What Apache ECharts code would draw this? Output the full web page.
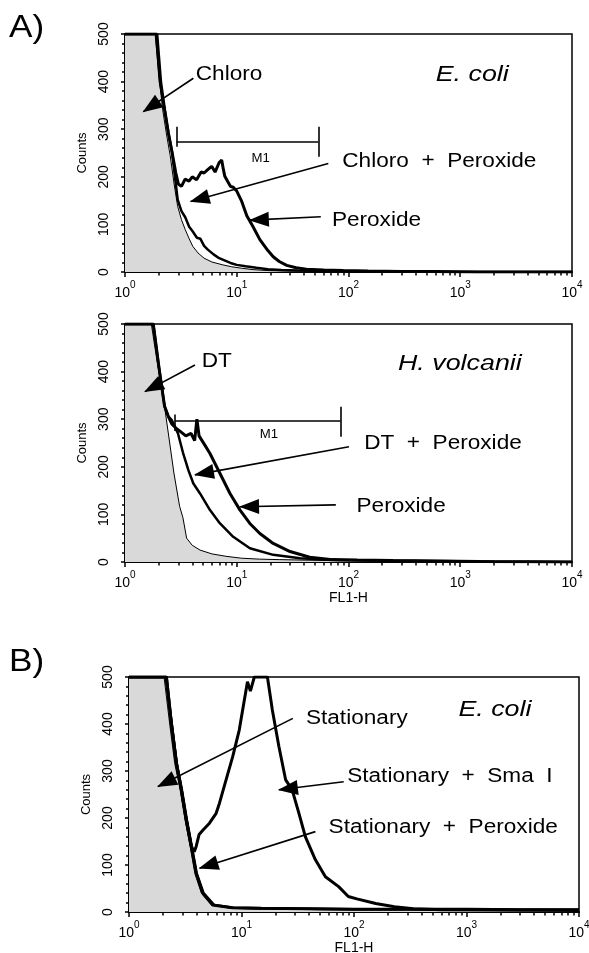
<!DOCTYPE html>
<html><head><meta charset="utf-8">
<script src="https://cdn.jsdelivr.net/npm/echarts@6/dist/echarts.min.js"></script>
<style>html,body{margin:0;padding:0;background:#fff}#c{width:589px;height:953px}</style>
</head><body><div id="c"></div>
<script>
// ---------- Panel A (top): E. coli ----------
const a1CtrlX = [1, 1.86, 2.0, 2.17, 2.35, 2.54, 2.75, 2.96, 3.2, 3.46, 3.75, 4.04, 4.5, 5.1, 6.0, 7.5, 9, 11, 14, 19, 30, 50, 77, 150, 400, 1000, 3000, 10000];
const a1CtrlY = [500, 500, 420, 342, 290, 244, 185, 138, 110, 89, 70, 54, 40, 29, 21, 15, 11, 8, 5, 3, 2, 1.5, 1, 1, 0.5, 0, 0, 0];
const a1ChlPerX = [1, 1.9, 2.05, 2.26, 2.44, 2.64, 2.8, 2.96, 3.2, 3.46, 3.75, 4.04, 4.4, 4.72, 5.1, 5.51, 6.2, 6.96, 8.78, 10, 12, 15, 19, 25, 35, 60, 100, 300, 1000, 10000];
const a1ChlPerY = [500, 500, 400, 342, 293, 251, 200, 152, 128, 115, 95, 85, 72, 70, 55, 47, 37, 29, 19, 15, 12, 9, 6, 4, 3, 2, 1, 1, 0, 0];
const a1PerX = [1, 1.93, 2.09, 2.26, 2.44, 2.64, 2.85, 3.0, 3.2, 3.45, 3.74, 4.0, 4.37, 4.8, 5.1, 5.5, 5.96, 6.4, 6.96, 7.33, 7.6, 7.82, 8.3, 8.78, 9.3, 10, 11, 12.3, 14, 16.1, 19, 21.2, 24, 28, 34, 42, 60, 90, 150, 300, 600, 1500, 10000];
const a1PerY = [500, 500, 398, 342, 293, 251, 208, 185, 180, 195, 191, 200, 194, 210, 208, 215, 222, 210, 230, 235, 215, 201, 190, 180, 178, 170, 150, 118, 95, 68, 45, 32, 22, 14, 9, 6, 4, 3, 2, 1, 1, 0, 0];

// ---------- Panel A (middle): H. volcanii ----------
const a2CtrlX = [1, 1.72, 1.93, 2.17, 2.44, 2.74, 3.08, 3.3, 3.56, 4.0, 4.7, 6, 8, 11, 16, 24, 40, 77, 200, 1000, 10000];
const a2CtrlY = [500, 500, 424, 355, 271, 187, 117, 93, 50, 35, 25, 17, 12, 8, 6, 5, 4, 3, 2, 1, 0];
const a2DtPerX = [1, 1.79, 2.01, 2.26, 2.44, 2.62, 2.98, 3.3, 3.69, 4.09, 4.69, 5.76, 7.08, 9.3, 13.1, 21.2, 36.8, 72, 150, 500, 2000, 10000];
const a2DtPerY = [500, 500, 410, 327, 306, 298, 270, 230, 193, 165, 144, 109, 81, 53, 29, 15, 8, 4, 3, 2, 1, 0];
const a2PerX = [1, 1.79, 2.01, 2.26, 2.44, 2.62, 2.9, 3.1, 3.5, 3.9, 4.2, 4.4, 4.6, 5.2, 5.76, 7.08, 8.7, 10.7, 13.1, 16.1, 21.2, 30, 45, 72, 120, 250, 600, 1500, 10000];
const a2PerY = [500, 500, 410, 327, 306, 290, 280, 275, 265, 270, 255, 300, 265, 245, 228, 186, 144, 109, 81, 60, 39, 22, 10, 5, 4, 3, 2, 1, 0];

// ---------- Panel B: E. coli stationary ----------
const bCtrlX = [1, 2.05, 2.3, 2.55, 2.85, 3.15, 3.5, 3.85, 4.4, 5.4, 8, 15, 50, 200, 1000, 10000];
const bCtrlY = [500, 500, 400, 316, 260, 196, 139, 82, 40, 15, 8, 6, 5, 5, 5, 5];
const bStatX = [1, 2.15, 2.38, 2.64, 2.92, 3.23, 3.58, 3.96, 4.53, 5.55, 8.3, 15, 40, 100, 300, 1000, 3000, 10000];
const bStatY = [500, 500, 401, 316, 260, 196, 139, 82, 40, 15, 9, 8, 7, 6, 6, 6, 5, 5];
const bStatPerX = [1, 2.12, 2.4, 2.66, 2.95, 3.27, 3.62, 4.0, 4.6, 5.7, 8.5, 15, 40, 100, 300, 1000, 3000, 10000];
const bStatPerY = [500, 500, 400, 316, 260, 196, 139, 82, 40, 15, 9, 8, 7, 6, 6, 6, 5, 5];
const bSmaX = [1, 2.15, 2.38, 2.64, 2.92, 3.23, 3.58, 3.8, 3.96, 4.2, 4.53, 5.19, 5.95, 6.36, 7.29, 8.34, 9.55, 10.6, 11.3, 12, 13, 17, 18.8, 21.5, 24.7, 28.2, 32.4, 37, 45.4, 55.7, 73, 89, 106, 156, 229, 337, 600, 1500, 10000];
const bSmaY = [500, 500, 401, 316, 260, 196, 140, 128, 140, 165, 174, 189, 210, 231, 281, 330, 387, 451, 490, 470, 500, 500, 430, 352, 281, 260, 210, 160, 111, 75, 54, 33, 28, 18, 11, 7, 5, 4, 3];

// ---------- axis ticks ----------
const xMin = 1, xMax = 10000;
const xExponents = ['0', '1', '2', '3', '4'];
const xMinorTicks = [2,3,4,5,6,7,8,9, 20,30,40,50,60,70,80,90, 200,300,400,500,600,700,800,900, 2000,3000,4000,5000,6000,7000,8000,9000];
const yMin = 0, yMax = 500, yStep = 100;

// ---------- annotations (data coordinates) ----------
// arrows: [tailX, tailY, tipX, tipY]
const a1Arrows = [[4.09, 407, 1.46, 337], [66, 228, 3.87, 148], [56.5, 116, 13.1, 109]];
const a1Texts = [['Chloro', 4.3, 414], ['Chloro  +  Peroxide', 88, 232], ['Peroxide', 71, 109]];
const a1Species = ['E. coli', 603, 414];
const a1Gate = {x1: 2.9, x2: 53.7, y: 274, tickLo: 242, tickHi: 305, leftLo: 263, leftHi: 305, lx: 16.4, ly: 239};

const a2Arrows = [[4.23, 414, 1.51, 358], [101, 242, 4.23, 183], [77, 120, 10.7, 116]];
const a2Texts = [['DT', 4.86, 421], ['DT  +  Peroxide', 138, 249], ['Peroxide', 118, 116]];
const a2Species = ['H. volcanii', 277, 417];
const a2Gate = {x1: 2.8, x2: 85, y: 297, tickLo: 263, tickHi: 326, leftLo: 275, leftHi: 310, lx: 19.4, ly: 267};

const bArrows = [[28.6, 412, 1.81, 267], [81, 277, 21.5, 260], [45.4, 171, 4.24, 93]];
const bTexts = [['Stationary', 37.4, 412], ['Stationary  +  Sma  I', 87, 288], ['Stationary  +  Peroxide', 59.4, 179]];
const bSpecies = ['E. coli', 847, 430];

// ---------- build ----------
const FONT = '"Liberation Sans", Arial, Helvetica, sans-serif';
const zip = (xs, ys) => xs.map((x, i) => [x, ys[i]]);

const grids = [
  {left: 125, top: 34, width: 447, height: 238},
  {left: 125, top: 324, width: 447, height: 238},
  {left: 129, top: 677, width: 450, height: 235}
];

const xAxes = [], yAxes = [];
grids.forEach((g, gi) => {
  const showName = gi > 0;
  xAxes.push({
    type: 'log', logBase: 10, min: xMin, max: xMax, gridIndex: gi, position: 'bottom',
    name: showName ? 'FL1-H' : '', nameLocation: 'middle', nameGap: 29,
    nameTextStyle: {fontFamily: FONT, fontSize: 14, color: '#000'},
    axisLine: {show: true, lineStyle: {color: '#000', width: 2}},
    axisTick: {show: true, length: 5, lineStyle: {color: '#000', width: 1.5}},
    minorTick: {show: false},
    splitLine: {show: false},
    axisLabel: {
      margin: 8, color: '#000', fontFamily: FONT,
      formatter: (v, i) => '{b|10}{s|' + xExponents[i] + '}',
      rich: {
        b: {fontFamily: FONT, fontSize: 14, color: '#000', lineHeight: 20, verticalAlign: 'bottom'},
        s: {fontFamily: FONT, fontSize: 10, color: '#000', lineHeight: 20, verticalAlign: 'top'}
      }
    }
  });
  xAxes.push({
    type: 'log', logBase: 10, min: xMin, max: xMax, gridIndex: gi, position: 'bottom', offset: 0,
    axisLine: {show: false},
    axisTick: {show: true, length: 3.5, customValues: xMinorTicks, lineStyle: {color: '#000', width: 1.5}},
    axisLabel: {show: false},
    splitLine: {show: false}
  });
  yAxes.push({
    type: 'value', min: yMin, max: yMax, interval: yStep, gridIndex: gi,
    name: 'Counts', nameLocation: 'middle', nameRotate: 90, nameGap: 34,
    nameTextStyle: {fontFamily: FONT, fontSize: 13, color: '#000'},
    axisLine: {show: true, lineStyle: {color: '#000', width: 2}},
    axisTick: {show: true, length: 4, lineStyle: {color: '#000', width: 1.5}},
    minorTick: {show: true, splitNumber: 5, length: 3, lineStyle: {color: '#000', width: 1.5}},
    splitLine: {show: false},
    axisLabel: {rotate: 90, margin: 14, fontFamily: FONT, fontSize: 14, color: '#000'}
  });
});

function arrowLines(arrows, gate) {
  const ml = [];
  arrows.forEach(a => ml.push([
    {coord: [a[0], a[1]], symbol: 'none'},
    {coord: [a[2], a[3]], symbol: 'triangle', symbolSize: [15, 20], symbolOffset: [0, 9]}
  ]));
  if (gate) {
    ml.push([{coord: [gate.x1, gate.y], symbol: 'none'}, {coord: [gate.x2, gate.y], symbol: 'none'}]);
    ml.push([{coord: [gate.x2, gate.tickLo], symbol: 'none'}, {coord: [gate.x2, gate.tickHi], symbol: 'none'}]);
    ml.push([{coord: [gate.x1, gate.leftLo], symbol: 'none'}, {coord: [gate.x1, gate.leftHi], symbol: 'none'}]);
  }
  return {markLine: {silent: true, animation: false, symbol: ['none', 'none'], label: {show: false},
    lineStyle: {color: '#000', width: 1.6, type: 'solid'}, emphasis: {disabled: true}, data: ml}};
}

function ctrlSeries(gi, xs, ys, ann) {
  return Object.assign({
    type: 'line', xAxisIndex: gi * 2, yAxisIndex: gi, data: zip(xs, ys), symbol: 'none',
    lineStyle: {color: '#000', width: 1}, areaStyle: {color: '#d9d9d9', opacity: 1}, z: 2, animation: false
  }, ann);
}
function lineSeries(gi, xs, ys, w) {
  return {type: 'line', xAxisIndex: gi * 2, yAxisIndex: gi, data: zip(xs, ys), symbol: 'none',
    lineStyle: {color: '#000', width: w}, z: 3, animation: false};
}

const series = [
  ctrlSeries(0, a1CtrlX, a1CtrlY, arrowLines(a1Arrows, a1Gate)),
  lineSeries(0, a1ChlPerX, a1ChlPerY, 2.5),
  lineSeries(0, a1PerX, a1PerY, 3),
  ctrlSeries(1, a2CtrlX, a2CtrlY, arrowLines(a2Arrows, a2Gate)),
  lineSeries(1, a2DtPerX, a2DtPerY, 2.5),
  lineSeries(1, a2PerX, a2PerY, 3),
  ctrlSeries(2, bCtrlX, bCtrlY, arrowLines(bArrows, null)),
  lineSeries(2, bStatX, bStatY, 3),
  lineSeries(2, bStatPerX, bStatPerY, 2.5),
  lineSeries(2, bSmaX, bSmaY, 3)
];

const chart = echarts.init(document.getElementById('c'), null, {renderer: 'canvas'});
chart.setOption({
  backgroundColor: '#fff',
  animation: false,
  textStyle: {fontFamily: FONT, color: '#000'},
  grid: grids.map(g => Object.assign({show: true, borderColor: '#000', borderWidth: 1.5, backgroundColor: 'transparent', containLabel: false, outerBoundsMode: 'none'}, g)),
  xAxis: xAxes,
  yAxis: yAxes,
  series: series
});

// text annotations anchored to data coordinates through the chart's own scales
const graphics = [
  {type: 'text', x: 9, y: 12, scaleX: 1.1, style: {text: 'A)', font: '32px ' + FONT, fill: '#000'}},
  {type: 'text', x: 9, y: 646, scaleX: 1.1, style: {text: 'B)', font: '32px ' + FONT, fill: '#000'}}
];
function addText(seriesIndex, text, x, y, font, sx, align) {
  const p = chart.convertToPixel({seriesIndex: seriesIndex}, [x, y]);
  graphics.push({type: 'text', x: p[0], y: p[1], scaleX: sx, z: 10,
    style: {text: text, font: font, fill: '#000', align: align || 'left', verticalAlign: 'middle',
      textAlign: align || 'left', textVerticalAlign: 'middle'}});
}
const NOTE = '20px ' + FONT, SPEC = 'italic 22px ' + FONT, GATE = '12px ' + FONT;
[[0, a1Texts, a1Species, a1Gate], [3, a2Texts, a2Species, a2Gate], [6, bTexts, bSpecies, null]].forEach(([si, texts, sp, gate]) => {
  texts.forEach(t => addText(si, t[0], t[1], t[2], NOTE, 1.13));
  addText(si, sp[0], sp[1], sp[2], SPEC, 1.22);
  if (gate) addText(si, 'M1', gate.lx, gate.ly, GATE, 1.1, 'center');
});
chart.setOption({graphic: graphics});
</script>
</body></html>
